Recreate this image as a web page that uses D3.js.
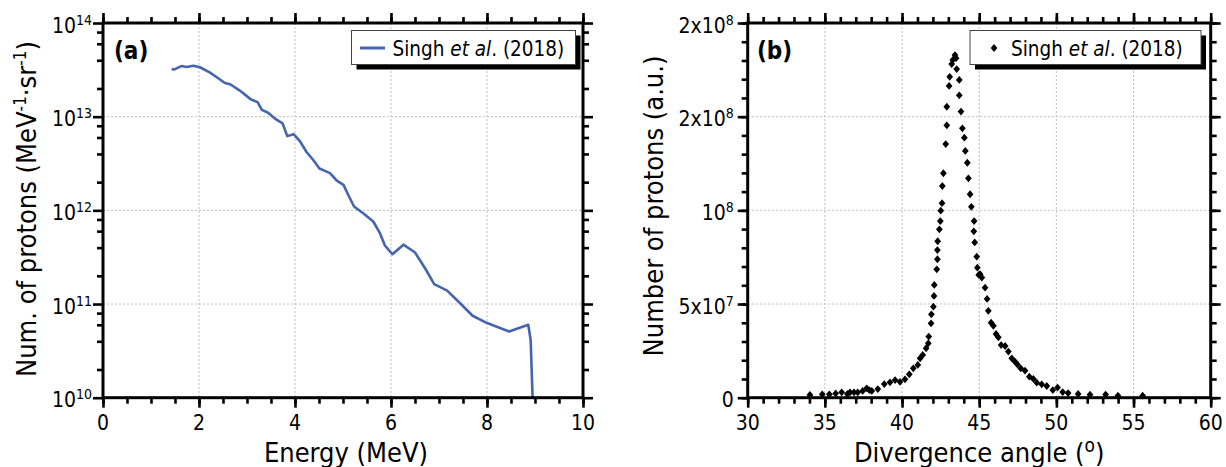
<!DOCTYPE html>
<html>
<head>
<meta charset="utf-8">
<script src="https://cdn.jsdelivr.net/npm/d3@7"></script>
<style>
  body { margin: 0; background: #fff; }
  svg text { font-family: "DejaVu Sans Condensed", "DejaVu Sans", sans-serif; font-stretch: condensed; fill: #000; }
</style>
</head>
<body>
<svg id="chart" width="1226" height="467"></svg>
<script>
// ---- (a) proton energy spectrum ----
const energyMeV = [1.43, 1.48, 1.64, 1.74, 1.88, 2.02, 2.23, 2.40, 2.54, 2.65, 2.85, 3.08, 3.22, 3.31, 3.44,
  3.60, 3.74, 3.84, 3.97, 4.10, 4.24, 4.38, 4.51, 4.73, 4.87, 5.01, 5.11, 5.23, 5.42, 5.63, 5.77, 5.875,
  6.03, 6.26, 6.50, 6.71, 6.90, 7.17, 7.44, 7.70, 7.99, 8.46, 8.86, 8.91, 8.95];
const spectrum = [3.23e13, 3.18e13, 3.48e13, 3.39e13, 3.50e13, 3.37e13, 2.95e13, 2.57e13, 2.29e13, 2.22e13,
  1.90e13, 1.53e13, 1.43e13, 1.18e13, 1.10e13, 9.4e12, 8.5e12, 6.2e12, 6.5e12, 5.5e12, 4.2e12, 3.45e12,
  2.8e12, 2.5e12, 2.08e12, 1.87e12, 1.46e12, 1.10e12, 9.3e11, 7.6e11, 5.7e11, 4.2e11, 3.4e11, 4.3e11,
  3.55e11, 2.41e11, 1.63e11, 1.39e11, 1.02e11, 7.5e10, 6.3e10, 5.1e10, 6.0e10, 4.1e10, 1.0e10];
const energyTicks = [0, 2, 4, 6, 8, 10];
const energyMinorTicks = d3.range(0, 10.01, 0.5);
const spectrumTicks = [1e10, 1e11, 1e12, 1e13, 1e14];
const spectrumTickExp = ["10", "11", "12", "13", "14"];
const spectrumMinorTicks = [10, 11, 12, 13].flatMap(e => [2, 4, 6, 8].map(m => m * Math.pow(10, e)));

// ---- (b) angular distribution ----
const angleDeg = [34.03, 34.83, 35.29, 35.70, 36.09, 36.46, 36.63, 36.89, 37.13, 37.45, 37.71, 37.88, 38.04,
  38.43, 38.85, 39.22, 39.55, 39.87, 40.19, 40.47, 40.73, 41.02, 41.17, 41.34, 41.56, 41.70, 41.73, 41.88,
  41.90, 42.03, 42.07, 42.09, 42.25, 42.29, 42.29, 42.31, 42.42, 42.48, 42.51, 42.59, 42.61, 42.68, 42.83,
  42.90, 42.90, 43.05, 43.09, 43.22, 43.29, 43.43, 43.50, 43.54, 43.71, 43.71, 43.82, 43.91, 44.04, 44.10,
  44.23, 44.30, 44.41, 44.49, 44.65, 44.67, 44.71, 44.84, 44.88, 44.97, 45.06, 45.17, 45.38, 45.51, 45.59,
  45.77, 45.92, 46.09, 46.24, 46.42, 46.68, 46.89, 47.11, 47.32, 47.47, 47.69, 47.97, 48.25, 48.51, 48.73,
  49.05, 49.38, 49.77, 50.08, 50.41, 50.76, 51.41, 52.18, 53.19, 53.99, 55.59];
// proton counts in millions
const protonCountM = [1.44, 1.8, 1.8, 2.3, 2.9, 2.0, 2.9, 2.9, 2.9, 3.6, 5.0, 4.1, 3.6, 4.6, 7.3, 8.2, 9.4,
  8.5, 9.8, 12.5, 15.7, 17.5, 21, 22.8, 26.4, 29, 32.6, 39.7, 44.5, 48.6, 54.3, 60.2, 68.5, 73.9, 78.8,
  83.5, 89.9, 94.3, 99.8, 103.8, 113, 119.8, 135.4, 145.4, 155.3, 166.4, 171.3, 178.1, 180.3, 182.9, 181.2,
  175.4, 169.6, 161.4, 152.7, 143.8, 138.8, 131.7, 125.4, 117.1, 108.6, 101.9, 88.8, 94.3, 82.9, 75.3,
  69.4, 65.5, 65.9, 64.1, 58.7, 52.7, 46.4, 40.0, 38.4, 34.0, 32.2, 28.1, 27.6, 24.6, 21.0, 19.2, 17.8,
  15.7, 14.4, 11.2, 10.0, 8.0, 7.15, 6.24, 4.1, 5.4, 3.0, 2.5, 2.0, 1.6, 1.7, 1.07, 1.07];
const angleTicks = [30, 35, 40, 45, 50, 55, 60];
const angleMinorTicks = d3.range(30, 60.01, 1);
const countTicks = [0, 5e7, 1e8, 1.5e8, 2e8];
const countTickLabels = ["0", "5x10^7", "10^8", "2x10^8", "2x10^8"];
const countMinorTicks = d3.range(0, 2.001e8, 1e7);

const legendLabel = ["Singh ", "et al", ". (2018)"];

const svg = d3.select("#chart");
const lineBlue = "#4665b1";

const boxA = { left: 103, right: 583, top: 23, bottom: 397.7 };
const boxB = { left: 747.7, right: 1210.7, top: 23, bottom: 397.7 };

const xA = d3.scaleLinear().domain([0, 10]).range([boxA.left, boxA.right]);
const yA = d3.scaleLog().domain([1e10, 1e14]).range([boxA.bottom, boxA.top]);
const xB = d3.scaleLinear().domain([30, 60]).range([boxB.left, boxB.right]);
const yB = d3.scaleLinear().domain([0, 2e8]).range([boxB.bottom, boxB.top]);

function drawGrid(box, x, y, xGrid, yGrid) {
  const g = svg.append("g").attr("stroke", "#bdbdbd").attr("stroke-width", 1).attr("stroke-dasharray", "2,2");
  g.selectAll(null).data(xGrid).join("line")
    .attr("x1", d => x(d)).attr("x2", d => x(d)).attr("y1", box.top).attr("y2", box.bottom);
  g.selectAll(null).data(yGrid).join("line")
    .attr("y1", d => y(d)).attr("y2", d => y(d)).attr("x1", box.left).attr("x2", box.right);
}

function drawTicks(box, x, y, xMajor, xMinor, yMajor, yMinor) {
  const specs = [
    [d3.axisBottom, x, `translate(0,${box.bottom})`],
    [d3.axisTop, x, `translate(0,${box.top})`],
    [d3.axisLeft, y, `translate(${box.left},0)`],
    [d3.axisRight, y, `translate(${box.right},0)`]
  ];
  specs.forEach(([axis, scale, tr], i) => {
    const major = i < 2 ? xMajor : yMajor;
    const minor = i < 2 ? xMinor : yMinor;
    [[minor, 6], [major, 10]].forEach(([vals, len]) => {
      const g = svg.append("g").attr("transform", tr)
        .call(axis(scale).tickValues(vals).tickSize(len).tickSizeOuter(0).tickFormat(""));
      g.select(".domain").remove();
      g.selectAll(".tick line").attr("stroke", "#000").attr("stroke-width", 2.6);
    });
  });
  svg.append("rect")
    .attr("x", box.left).attr("y", box.top)
    .attr("width", box.right - box.left).attr("height", box.bottom - box.top)
    .attr("fill", "none").attr("stroke", "#000").attr("stroke-width", 3);
}

function powerLabel(sel, mant, exp) {
  sel.append("tspan").text(mant);
  if (exp) sel.append("tspan").attr("dy", -8).attr("font-size", 14).text(exp);
}

function drawLegend(x0, y0, w, h, drawKey) {
  const g = svg.append("g");
  g.append("rect").attr("x", x0 + 5).attr("y", y0 + 5).attr("width", w).attr("height", h).attr("fill", "#000");
  g.append("rect").attr("x", x0).attr("y", y0).attr("width", w).attr("height", h)
    .attr("fill", "#fff").attr("stroke", "#444").attr("stroke-width", 1);
  drawKey(g);
  const t = g.append("text").attr("x", x0 + 41).attr("y", y0 + 25.5).attr("font-size", 20.5);
  t.append("tspan").text(legendLabel[0]);
  t.append("tspan").attr("font-style", "italic").text(legendLabel[1]);
  t.append("tspan").text(legendLabel[2]);
}

const diamond = {
  draw(ctx, size) {
    const r = Math.sqrt(size) / 2;
    ctx.moveTo(0, -r * 1.1); ctx.lineTo(r * 0.95, 0); ctx.lineTo(0, r * 1.1); ctx.lineTo(-r * 0.95, 0); ctx.closePath();
  }
};

// ===== panel (a) =====
drawGrid(boxA, xA, yA, [2, 4, 6, 8], [1e11, 1e12, 1e13]);

svg.append("defs").append("clipPath").attr("id", "clipA").append("rect")
  .attr("x", boxA.left).attr("y", boxA.top).attr("width", boxA.right - boxA.left).attr("height", boxA.bottom - boxA.top);

svg.append("path")
  .datum(energyMeV.map((e, i) => [e, spectrum[i]]))
  .attr("clip-path", "url(#clipA)")
  .attr("fill", "none").attr("stroke", lineBlue).attr("stroke-width", 2.6).attr("stroke-linejoin", "round")
  .attr("d", d3.line().x(d => xA(d[0])).y(d => yA(d[1])));

drawTicks(boxA, xA, yA, energyTicks, energyMinorTicks, spectrumTicks, spectrumMinorTicks);

svg.append("g").selectAll("text").data(energyTicks).join("text")
  .attr("x", d => xA(d)).attr("y", 430).attr("text-anchor", "middle").attr("font-size", 21).text(d => d);

svg.append("g").selectAll("text").data(spectrumTicks).join("text")
  .attr("x", boxA.left - 11).attr("y", d => yA(d) + 9.5).attr("text-anchor", "end").attr("font-size", 21)
  .each(function (d, i) { powerLabel(d3.select(this), "10", spectrumTickExp[i]); });

svg.append("text").attr("x", 114).attr("y", 59).attr("font-size", 24).attr("font-weight", "bold").text("(a)");

svg.append("text").attr("x", (boxA.left + boxA.right) / 2 + 3).attr("y", 462)
  .attr("text-anchor", "middle").attr("font-size", 27).text("Energy (MeV)");

{
  const t = svg.append("text").attr("transform", "translate(36,209) rotate(-90)")
    .attr("text-anchor", "middle").attr("font-size", 27);
  t.append("tspan").text("Num. of protons (MeV");
  t.append("tspan").attr("dy", -10).attr("font-size", 17).text("-1");
  t.append("tspan").attr("dy", 10).text("·sr");
  t.append("tspan").attr("dy", -10).attr("font-size", 17).text("-1");
  t.append("tspan").attr("dy", 10).text(")");
}

drawLegend(351.5, 30.5, 224, 34, g => {
  g.append("line").attr("x1", 360).attr("x2", 385).attr("y1", 48).attr("y2", 48)
    .attr("stroke", lineBlue).attr("stroke-width", 3);
});

// ===== panel (b) =====
drawGrid(boxB, xB, yB, [35, 40, 45, 50, 55], [5e7, 1e8, 1.5e8]);

svg.append("g").selectAll("path")
  .data(angleDeg.map((a, i) => [a, protonCountM[i] * 1e6]))
  .join("path")
  .attr("transform", d => `translate(${xB(d[0])},${yB(d[1])})`)
  .attr("d", d3.symbol().type(diamond).size(50))
  .attr("fill", "#000");

drawTicks(boxB, xB, yB, angleTicks, angleMinorTicks, countTicks, countMinorTicks);

svg.append("g").selectAll("text").data(angleTicks).join("text")
  .attr("x", d => xB(d)).attr("y", 430).attr("text-anchor", "middle").attr("font-size", 21).text(d => d);

svg.append("g").selectAll("text").data(countTicks).join("text")
  .attr("x", boxB.left - 14).attr("y", d => yB(d) + 9.5).attr("text-anchor", "end").attr("font-size", 21)
  .each(function (d, i) {
    const parts = countTickLabels[i].split("^");
    powerLabel(d3.select(this), parts[0], parts[1]);
  });

svg.append("text").attr("x", 757).attr("y", 59).attr("font-size", 24).attr("font-weight", "bold").text("(b)");

{
  const t = svg.append("text").attr("x", (boxB.left + boxB.right) / 2).attr("y", 462)
    .attr("text-anchor", "middle").attr("font-size", 27);
  t.append("tspan").text("Divergence angle (");
  t.append("tspan").attr("dy", -10).attr("font-size", 19).text("o");
  t.append("tspan").attr("dy", 10).text(")");
}

svg.append("text").attr("transform", "translate(663,206) rotate(-90)")
  .attr("text-anchor", "middle").attr("font-size", 27).text("Number of protons (a.u.)");

drawLegend(970, 30.5, 231, 34, g => {
  g.append("path").attr("transform", "translate(994,48)")
    .attr("d", d3.symbol().type(diamond).size(50)).attr("fill", "#000");
});
</script>
</body>
</html>
